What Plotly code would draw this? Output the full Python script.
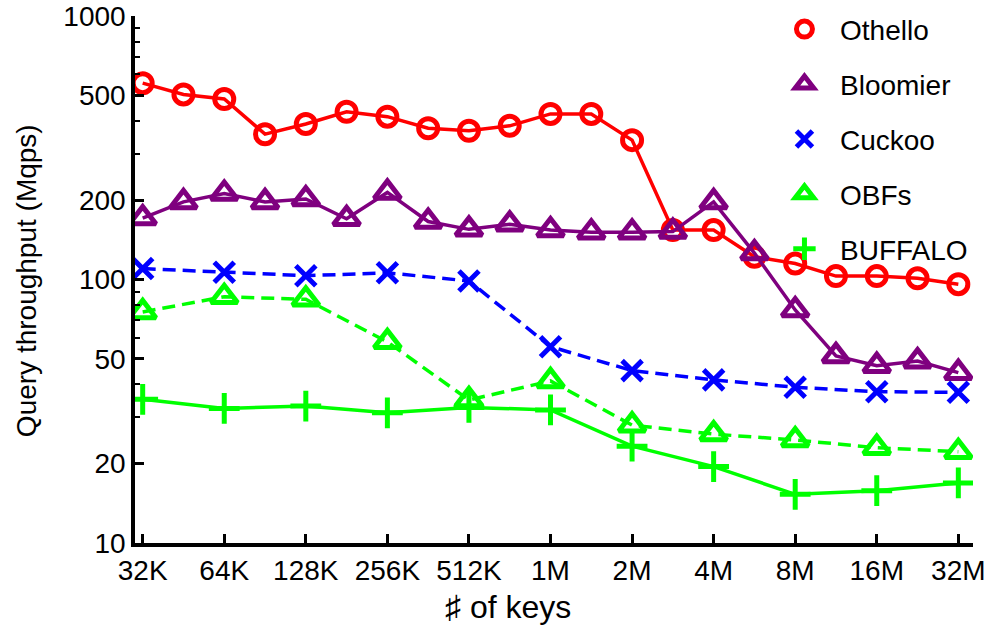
import plotly.graph_objects as go

# number of keys (half-octave steps for Othello / Bloomier)
keys_half = [32768, 46341, 65536, 92682, 131072, 185364, 262144, 370728, 524288,
             741455, 1048576, 1482910, 2097152, 2965821, 4194304, 5931642, 8388608,
             11863283, 16777216, 23726566, 33554432]
# number of keys (octave steps for Cuckoo / OBFs / BUFFALO)
keys_oct = [32768, 65536, 131072, 262144, 524288, 1048576, 2097152, 4194304,
            8388608, 16777216, 33554432]

othello = [556, 504, 484, 356, 389, 433, 415, 375, 367, 383, 425, 425, 338,
           154, 154, 122, 115, 103, 103, 101, 96]
bloomier = [171, 197, 212, 197, 202, 170, 214, 166, 155, 162, 154, 151, 151,
            152, 197, 126, 76.6, 51.3, 47.1, 49, 44.3]
cuckoo = [110, 106.5, 103.4, 106, 98.7, 55.6, 45.1, 41.6, 39.0, 37.5, 37.3]
obfs = [75.3, 86, 84.1, 58, 34.9, 41.2, 28.0, 25.9, 24.6, 23.0, 22.2]
buffalo = [35.1, 32.4, 33.1, 31.2, 32.7, 32.0, 23.3, 19.5, 15.3, 15.8, 16.9]

x_tickvals = [32768, 65536, 131072, 262144, 524288, 1048576, 2097152, 4194304,
              8388608, 16777216, 33554432]
x_ticktext = ["32K", "64K", "128K", "256K", "512K", "1M", "2M", "4M", "8M", "16M", "32M"]
y_tickvals = [10, 20, 50, 100, 200, 500, 1000]
y_minor = [30, 40, 60, 70, 80, 90, 300, 400, 600, 700, 800, 900]

FONT = "Liberation Sans, Arial, Helvetica, sans-serif"
FS = 28

series = [
    ("Othello", keys_half, othello, "#FF0000", "circle-open", 19, "solid"),
    ("Bloomier", keys_half, bloomier, "#7F007F", "triangle-up-open", 23, "solid"),
    ("Cuckoo", keys_oct, cuckoo, "#0000FF", "x-thin-open", 20, "13px,7px"),
    ("OBFs", keys_oct, obfs, "#00FF00", "triangle-up-open", 23, "13px,7px"),
    ("BUFFALO", keys_oct, buffalo, "#00FF00", "cross-thin-open", 22, "solid"),
]

fig = go.Figure()
for name, xs, ys, col, sym, size, dash in series:
    fig.add_trace(go.Scatter(
        x=xs, y=ys, mode="lines+markers", name=name, showlegend=False,
        line=dict(color=col, width=3.5, dash=dash),
        marker=dict(symbol=sym, size=size, color=col, line=dict(color=col, width=5)),
    ))
for i, (name, xs, ys, col, sym, size, dash) in enumerate(series):
    fig.add_trace(go.Scatter(
        x=[None], y=[None], mode="markers", name="\u00a0\u00a0" + name, legendgroup=name,
        marker=dict(symbol=sym, size=size - 3, color=col, line=dict(color=col, width=5)),
    ))

fig.update_layout(
    width=990, height=632,
    margin=dict(l=135, r=17, t=16, b=89, autoexpand=False),
    paper_bgcolor="white", plot_bgcolor="white",
    font=dict(family=FONT, size=FS, color="black"),
    showlegend=True,
    legend=dict(x=0.775, y=1.022, xanchor="left", yanchor="top",
                bgcolor="rgba(0,0,0,0)", borderwidth=0,
                font=dict(family=FONT, size=FS, color="black"),
                tracegroupgap=15.5, itemwidth=30),
    xaxis=dict(type="log", range=[4.4871, 7.5799], tickvals=x_tickvals, ticktext=x_ticktext,
               ticks="inside", ticklen=9, tickwidth=3, tickcolor="black", automargin=False,
               showline=True, linewidth=3.5, linecolor="black", showgrid=False,
               zeroline=False, tickfont=dict(family=FONT, size=FS)),
    yaxis=dict(type="log", range=[1, 3], tickvals=y_tickvals,
               ticktext=[str(v) for v in y_tickvals], automargin=False,
               ticks="inside", ticklen=9, tickwidth=3, tickcolor="black",
               minor=dict(tickvals=y_minor, ticks="inside", ticklen=5, tickwidth=2,
                          tickcolor="black"),
               showline=True, linewidth=3.5, linecolor="black", showgrid=False,
               zeroline=False, tickfont=dict(family=FONT, size=FS)),
    annotations=[
        dict(text="\u266f of keys", xref="paper", yref="paper", x=0.445, y=-0.121,
             xanchor="center", yanchor="middle", showarrow=False,
             font=dict(family=FONT, size=32)),
        dict(text="Query throughput (Mqps)", xref="paper", yref="paper", x=-0.13, y=0.497,
             xanchor="center", yanchor="middle", textangle=-90, showarrow=False,
             font=dict(family=FONT, size=FS)),
    ],
)

fig.write_html("out.html")
